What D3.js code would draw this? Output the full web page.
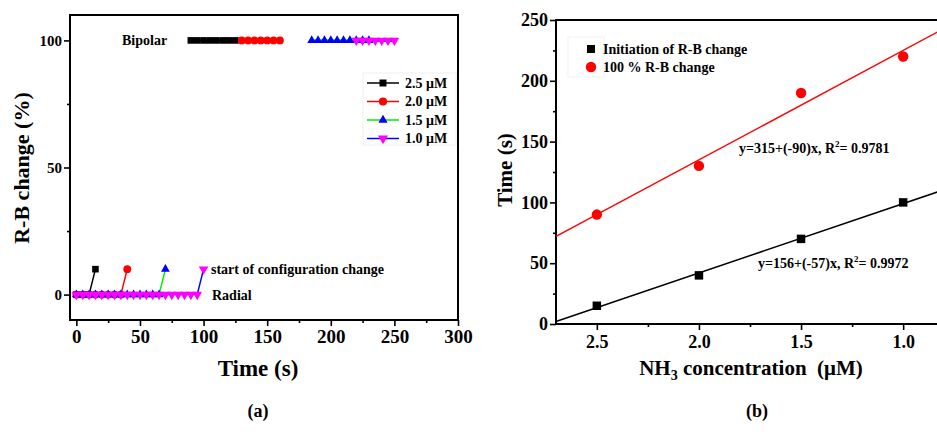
<!DOCTYPE html>
<html>
<head>
<meta charset="utf-8">
<script src="https://cdn.jsdelivr.net/npm/d3@7"></script>
<style>
body { margin: 0; background: #fff; }
svg text { font-family: "Liberation Serif", "Times New Roman", serif; font-weight: bold; fill: #000; }
</style>
</head>
<body>
<svg id="chart" width="937" height="432"></svg>
<script>
// ---- panel (a): R-B change vs time ----
const concLabels = ["2.5 μM", "2.0 μM", "1.5 μM", "1.0 μM"];
const radialTimes = [
  [0, 5, 10],
  [0, 5, 10, 15, 20, 25, 30, 35],
  [0, 5, 10, 15, 20, 25, 30, 35, 40, 45, 50, 55, 60, 65],
  [0, 5, 10, 15, 20, 25, 30, 35, 40, 45, 50, 55, 60, 65, 70, 75, 80, 85, 90, 95]
];
const startTimes = [15, 40, 70, 100];
const bipolarTimes = [
  [90, 95, 100, 105, 110, 115, 120, 125],
  [130, 135, 140, 145, 150, 155, 160],
  [185, 190, 195, 200, 205, 210, 215, 220, 225, 230],
  [220, 225, 230, 235, 240, 245, 250]
];
const radialPct = 0;
const startPct = 10;
const bipolarPct = 100;
const xTicksA = [0, 50, 100, 150, 200, 250, 300];
const yTicksA = [0, 50, 100];

// ---- panel (b): time vs NH3 concentration ----
const nh3Conc = [2.5, 2.0, 1.5, 1.0];
const initTime = [15, 40, 70, 100];
const fullTime = [90, 130, 190, 220];
const fitIntercept = [156, 315];
const fitSlope = [-57, -90];
const fitR2 = ["0.9972", "0.9781"];
const legendB = ["Initiation of R-B change", "100 % R-B change"];
const xTicksB = [2.5, 2.0, 1.5, 1.0];
const yTicksB = [0, 50, 100, 150, 200, 250];

// styles
const lineCol = ["#000000", "#ff0000", "#00ee00", "#0000ff"];
const markCol = ["#000000", "#ff0000", "#0000ff", "#ff00ff"];
const markType = [d3.symbolSquare, d3.symbolCircle, d3.symbolTriangle, d3.symbolTriangle];
const markSize = [44, 48, 34, 40];
const markRot = [0, 0, 0, 180];

const svg = d3.select("#chart");

//////////////// panel (a)
let a = { left: 70, right: 458, top: 15, bottom: 320 };
let xA = d3.scaleLinear().domain([-5, 300]).range([a.left, a.right]);
let yA = d3.scaleLinear().domain([-10, 110]).range([a.bottom, a.top]);

let gA = svg.append("g");

// x axis
let xAxA = gA.append("g")
  .attr("transform", `translate(0, ${a.bottom})`)
  .call(d3.axisBottom(xA).tickValues(xTicksA).tickSize(6).tickPadding(4))
  .attr("font-size", 19);
xAxA.select(".domain").remove();
gA.append("g")
  .attr("transform", `translate(0, ${a.bottom})`)
  .call(d3.axisBottom(xA).tickValues([25, 75, 125, 175, 225, 275]).tickSize(3).tickFormat(""))
  .select(".domain").remove();

// y axis
let yAxA = gA.append("g")
  .attr("transform", `translate(${a.left}, 0)`)
  .call(d3.axisLeft(yA).tickValues(yTicksA).tickSize(6).tickPadding(2))
  .attr("font-size", 15);
yAxA.select(".domain").remove();
gA.append("g")
  .attr("transform", `translate(${a.left}, 0)`)
  .call(d3.axisLeft(yA).tickValues([25, 75]).tickSize(3).tickFormat(""))
  .select(".domain").remove();

gA.selectAll(".tick line").attr("stroke-width", 1.6);

gA.append("rect")
  .attr("x", a.left).attr("y", a.top)
  .attr("width", a.right - a.left).attr("height", a.bottom - a.top)
  .attr("fill", "none").attr("stroke", "#000").attr("stroke-width", 2);

let lineA = d3.line().x(d => xA(d[0])).y(d => yA(d[1]));

function drawMarks(g, pts, i) {
  g.selectAll(null)
    .data(pts)
    .enter()
    .append("path")
    .attr("d", d3.symbol().type(markType[i]).size(markSize[i]))
    .attr("transform", d => `translate(${xA(d[0])}, ${yA(d[1])}) rotate(${markRot[i]})`)
    .attr("fill", markCol[i]);
}

concLabels.forEach(function(lab, i) {
  let radial = radialTimes[i].map(t => [t, radialPct]);
  radial.push([startTimes[i], startPct]);
  let bip = bipolarTimes[i].map(t => [t, bipolarPct]);
  let sg = gA.append("g");
  sg.append("path").attr("d", lineA(radial)).attr("fill", "none")
    .attr("stroke", lineCol[i]).attr("stroke-width", 1.5);
  sg.append("path").attr("d", lineA(bip)).attr("fill", "none")
    .attr("stroke", lineCol[i]).attr("stroke-width", 2.5);
  drawMarks(sg, radial, i);
  drawMarks(sg, bip, i);
});

// annotations
gA.append("text").attr("x", 122).attr("y", 45).attr("font-size", 14).text("Bipolar");
gA.append("text").attr("x", 211).attr("y", 274).attr("font-size", 14).text("start of configuration change");
gA.append("text").attr("x", 212).attr("y", 300).attr("font-size", 14).text("Radial");

// legend
let legA = gA.append("g");
legA.append("rect").attr("x", 363).attr("y", 73).attr("width", 93).attr("height", 72)
  .attr("fill", "#fff").attr("stroke", "#f0f0f0");
concLabels.forEach(function(lab, i) {
  let ly = 83 + i * 18.5;
  legA.append("line").attr("x1", 367).attr("x2", 399).attr("y1", ly).attr("y2", ly)
    .attr("stroke", lineCol[i]).attr("stroke-width", 1.5);
  legA.append("path")
    .attr("d", d3.symbol().type(markType[i]).size(markSize[i] * 1.1))
    .attr("transform", `translate(383, ${ly}) rotate(${markRot[i]})`)
    .attr("fill", markCol[i]);
  legA.append("text").attr("x", 405).attr("y", ly).attr("dy", "0.35em")
    .attr("font-size", 14).text(lab);
});

// axis titles
gA.append("text").attr("x", 258).attr("y", 376).attr("text-anchor", "middle")
  .attr("font-size", 23).text("Time (s)");
gA.append("text").attr("transform", "translate(29, 168) rotate(-90)")
  .attr("text-anchor", "middle").attr("font-size", 22).text("R-B change (%)");
gA.append("text").attr("x", 258).attr("y", 417).attr("text-anchor", "middle")
  .attr("font-size", 18).text("(a)");

//////////////// panel (b)
let b = { left: 556, right: 944, top: 20, bottom: 324 };
let xB = d3.scaleLinear().domain([2.7, 0.8]).range([b.left, b.right]);
let yB = d3.scaleLinear().domain([0, 250]).range([b.bottom, b.top]);

let gB = svg.append("g");

let xAxB = gB.append("g")
  .attr("transform", `translate(0, ${b.bottom})`)
  .call(d3.axisBottom(xB).tickValues(xTicksB).tickSize(6).tickPadding(5).tickFormat(d3.format(".1f")))
  .attr("font-size", 18);
xAxB.select(".domain").remove();
gB.append("g")
  .attr("transform", `translate(0, ${b.bottom})`)
  .call(d3.axisBottom(xB).tickValues([2.25, 1.75, 1.25]).tickSize(3).tickFormat(""))
  .select(".domain").remove();

let yAxB = gB.append("g")
  .attr("transform", `translate(${b.left}, 0)`)
  .call(d3.axisLeft(yB).tickValues(yTicksB).tickSize(6).tickPadding(2))
  .attr("font-size", 18);
yAxB.select(".domain").remove();
gB.append("g")
  .attr("transform", `translate(${b.left}, 0)`)
  .call(d3.axisLeft(yB).tickValues([25, 75, 125, 175, 225]).tickSize(3).tickFormat(""))
  .select(".domain").remove();

gB.selectAll(".tick line").attr("stroke-width", 1.6);

gB.append("rect")
  .attr("x", b.left).attr("y", b.top)
  .attr("width", b.right - b.left).attr("height", b.bottom - b.top)
  .attr("fill", "none").attr("stroke", "#000").attr("stroke-width", 2);

// fit lines
let fitCol = ["#000", "#ff0000"];
let xDom = xB.domain();
fitIntercept.forEach(function(c, i) {
  let pts = xDom.map(x => [x, c + fitSlope[i] * x]);
  gB.append("path")
    .attr("d", d3.line().x(d => xB(d[0])).y(d => yB(d[1]))(pts))
    .attr("stroke", fitCol[i]).attr("stroke-width", 1.5).attr("fill", "none");
});

// points
gB.selectAll(".sq").data(nh3Conc).enter().append("path")
  .attr("d", d3.symbol().type(d3.symbolSquare).size(72))
  .attr("transform", (d, i) => `translate(${xB(d)}, ${yB(initTime[i])})`)
  .attr("fill", "#000");
gB.selectAll(".ci").data(nh3Conc).enter().append("path")
  .attr("d", d3.symbol().type(d3.symbolCircle).size(85))
  .attr("transform", (d, i) => `translate(${xB(d)}, ${yB(fullTime[i])})`)
  .attr("fill", "#ff0000");

// equations
let eqPos = [[758, 268], [739, 153]];
fitIntercept.forEach(function(c, i) {
  let t = gB.append("text").attr("x", eqPos[i][0]).attr("y", eqPos[i][1]).attr("font-size", 14);
  t.append("tspan").text(`y=${c}+(${fitSlope[i]})x, R`);
  t.append("tspan").attr("font-size", 9).attr("dy", -6).text("2");
  t.append("tspan").attr("dy", 6).text(`= ${fitR2[i]}`);
});

// legend
let legB = gB.append("g");
legB.append("rect").attr("x", 568).attr("y", 37).attr("width", 36).attr("height", 40)
  .attr("fill", "none").attr("stroke", "#f2f2f2");
legB.append("path").attr("d", d3.symbol().type(d3.symbolSquare).size(64))
  .attr("transform", "translate(591, 49)").attr("fill", "#000");
legB.append("path").attr("d", d3.symbol().type(d3.symbolCircle).size(85))
  .attr("transform", "translate(591, 67)").attr("fill", "#ff0000");
legendB.forEach(function(lab, i) {
  legB.append("text").attr("x", 603).attr("y", 49 + i * 18).attr("dy", "0.35em")
    .attr("font-size", 14).text(lab);
});

// titles
let xt = gB.append("text").attr("x", 751).attr("y", 375).attr("text-anchor", "middle")
  .attr("font-size", 21).style("white-space", "pre");
xt.append("tspan").text("NH");
xt.append("tspan").attr("font-size", 14).attr("dy", 5).text("3");
xt.append("tspan").attr("dy", -5).text(" concentration  (μM)");
gB.append("text").attr("transform", "translate(512, 170) rotate(-90)")
  .attr("text-anchor", "middle").attr("font-size", 21).text("Time (s)");
gB.append("text").attr("x", 757).attr("y", 417).attr("text-anchor", "middle")
  .attr("font-size", 18).text("(b)");
</script>
</body>
</html>
